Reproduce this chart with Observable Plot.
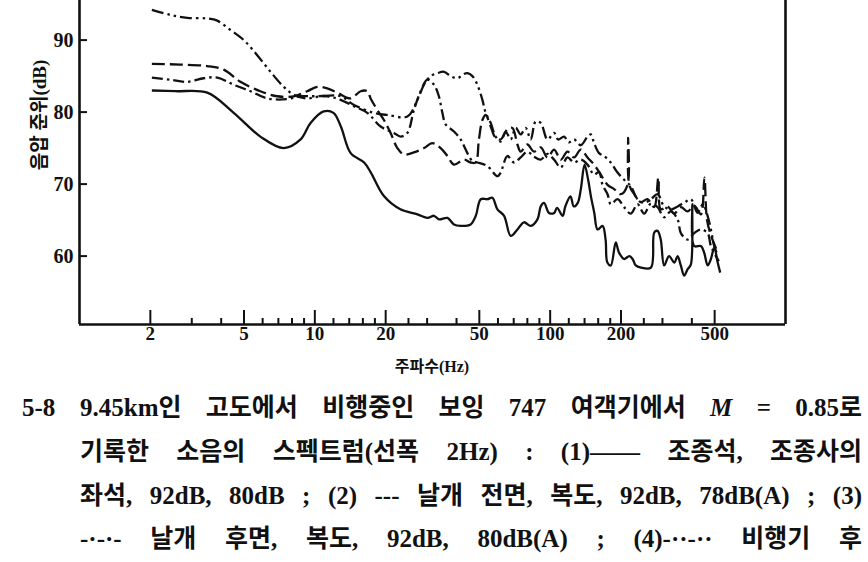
<!DOCTYPE html>
<html><head><meta charset="utf-8">
<script src="https://cdn.jsdelivr.net/npm/d3@7"></script>
<script src="https://cdn.jsdelivr.net/npm/@observablehq/plot@0.6"></script>
<style>
body{margin:0;background:#fff;width:868px;height:562px;overflow:hidden;position:relative;font-family:"Liberation Serif","Noto Sans CJK KR",serif;color:#111;}
#chart{position:absolute;left:0;top:0;}
.ylab{position:absolute;left:37px;top:115px;transform:translate(-50%,-50%) rotate(-90deg);font-size:19px;font-weight:bold;white-space:nowrap;}
.xlab{position:absolute;left:432px;top:365px;transform:translate(-50%,-50%);font-size:16px;font-weight:bold;white-space:nowrap;}
.cap{position:absolute;left:80px;width:782px;font-size:25px;line-height:30px;font-weight:bold;text-align:justify;text-align-last:justify;}
.num{position:absolute;left:22px;font-size:25px;line-height:30px;font-weight:bold;}
</style>
</head><body>
<div id="chart"></div>
<div class="ylab">음압 준위(dB)</div>
<div class="xlab">주파수(Hz)</div>
<div class="num" style="top:393px">5-8</div>
<div class="cap" style="top:393px">9.45km인 고도에서 비행중인 보잉 747 여객기에서 <i>M</i> = 0.85로</div>
<div class="cap" style="top:437px">기록한 소음의 스펙트럼(선폭 2Hz) : (1)—— 조종석, 조종사의</div>
<div class="cap" style="top:481px">좌석, 92dB, 80dB ; (2) --- 날개 전면, 복도, 92dB, 78dB(A) ; (3)</div>
<div class="cap" style="top:524px">-·-·- 날개 후면, 복도, 92dB, 80dB(A) ; (4)-··-·· 비행기 후</div>
<script>
// Frequency (Hz) and sound pressure level (dB) for each curve
const freq1 = [2.03,2.56,3.49,4.52,5.87,7.38,8.70,9.59,10.9,12.0,12.9,14.2,16.2,17.3,19.7,23.1,27.3,30.1,32.1,33.7,36.6,39.0,41.7,45.9,48.3,50.7,54.1,56.8,59.7,63.7,68.0,72.6,77.4,82.7,88.3,91.2,94.2,98.9,104,107,113,116,122,126,131,135,140,145,149,154,159,167,172,175,181,190,196,206,217,224,231,243,268,277,286,295,305,320,337,348,359,371,384,396,402,409,437,451,467,482,498,515,528];
const level1 = [83.0,82.9,82.7,79.9,76.6,75.0,76.2,78.5,80.1,79.9,78.0,74.3,73.0,71.6,68.3,66.5,65.8,65.3,65.6,65.1,65.3,64.4,64.2,64.4,65.6,67.9,67.9,68.1,66.5,65.6,62.8,63.7,64.7,64.2,65.1,66.9,67.4,66.0,66.0,66.7,65.6,66.9,68.3,66.9,67.4,69.3,72.7,70.6,68.3,66.0,63.7,64.2,62.3,59.1,58.7,61.9,60.5,59.6,60.0,59.6,58.7,58.4,58.4,63.3,63.5,62.3,58.7,60.0,59.1,60.0,58.7,57.3,58.2,58.8,67.2,61.4,61.4,60.5,58.7,59.6,61.2,59.1,57.7];

const freq2 = [2.03,2.68,3.49,4.10,4.83,5.87,6.92,8.14,9.28,10.24,11.29,12.45,14.19,15.65,16.71,17.26,18.43,19.66,20.99,22.42,23.92,26.38,29.09,31.58,34.25,36.58,39.02,43.04,45.94,48.24,49.8,51.53,53.2,55.88,58.67,61.62,65.8,69.1,72.6,74.95,80.0,85.4,91.2,97.4,103.9,110.9,118.4,126.3,134.9,144.1,153.7,164.1,175.3,187.0,199.6,213.2,214.4,216.8,227.5,242.8,259.3,276.6,288.2,295.3,315.4,336.4,359.2,383.6,409.3,436.9,452.2,463.6,481.9,512.2];
const level2 = [86.7,86.6,86.4,85.9,84.2,82.9,82.2,82.2,82.9,83.5,83.3,82.7,81.9,82.9,82.9,81.9,80.3,78.9,77.1,75.0,74.1,74.4,75.0,75.7,75.0,73.9,72.7,73.4,73.0,73.0,76.2,78.9,79.6,78.0,76.4,76.2,77.6,77.8,75.5,74.5,75.5,74.5,75.1,73.7,74.8,73.4,74.5,73.7,74.8,73.7,72.7,71.3,69.9,69.3,68.6,69.9,76.4,69.9,68.6,67.5,67.9,66.8,70.9,66.5,66.9,65.9,66.8,66.2,67.0,65.8,70.9,65.1,62.9,60.7];

const freq3 = [2.03,2.43,2.87,3.37,3.85,4.52,5.33,6.27,7.63,8.69,9.90,11.29,12.86,14.66,16.71,19.03,21.68,23.15,24.72,26.37,28.16,30.07,32.07,33.66,34.83,35.96,39.02,41.66,44.49,46.72,49.06,54.12,59.68,61.62,65.8,70.2,74.95,80.0,85.4,91.2,97.4,103.9,110.9,118.4,126.3,134.9,144.1,153.7,161.3,166.9,175.3,181.0,193.3,206.2,220.2,235.2,250.8,267.8,286.0,305.0,325.7,347.9,359.2,383.6,409.3,436.9,466.6,481.9,506.0,521];
const level3 = [84.8,84.5,84.2,84.7,84.8,83.8,82.9,81.9,81.8,82.2,82.2,82.2,81.7,80.8,79.9,78.0,77.1,76.6,77.1,80.3,82.9,84.5,83.8,82.2,79.9,78.3,77.3,76.2,74.3,73.2,73.0,72.5,71.1,71.6,73.9,73.0,73.7,74.5,73.8,73.4,74.2,73.4,72.3,73.7,73.0,73.4,72.7,71.3,71.7,69.9,68.6,67.2,67.9,66.8,65.9,67.2,65.9,67.3,66.8,65.4,66.2,65.1,63.2,62.3,63.2,63.7,63.2,61.4,60.0,59.3];

const freq4 = [2.03,2.43,2.87,3.49,3.85,4.38,4.99,5.69,6.48,7.38,8.14,9.28,10.57,12.86,14.66,17.83,20.32,24.72,27.27,29.09,31.05,33.16,35.38,37.77,40.34,43.04,44.49,46.72,49.06,51.53,53.2,55.88,58.67,61.62,64.7,67.96,71.4,74.95,78.7,82.66,86.8,91.2,97.4,103.9,108.0,114.6,119.9,126.3,134.9,144.1,148.8,153.7,161.3,169.5,181.0,193.3,206.2,220.2,235.2,250.8,267.8,286.0,305.0,325.7,347.9,371.1,396.2,423.1,445.6,466.6,481.9,497.8,509.4];
const level4 = [94.2,93.5,93.1,93.0,92.7,91.4,90.0,87.9,85.6,83.5,82.4,81.9,82.2,82.2,81.0,79.9,79.6,79.4,81.7,83.8,85.0,85.4,85.6,85.0,84.7,85.3,85.4,85.0,83.8,81.7,79.9,78.5,76.6,75.9,77.3,76.2,77.8,76.9,77.8,76.2,78.7,78.5,76.2,77.1,76.2,76.6,75.8,76.2,75.4,76.6,76.9,75.7,74.3,73.9,73.0,71.6,70.6,69.7,67.9,67.4,67.9,68.6,66.9,66.5,66.9,67.4,67.9,66.0,67.2,65.6,63.7,61.4,60.5];

// Axis ticks
const xDomain = [1, 1000];
const yDomain = [50.5, 95.5];
const xMajorTicks = [2, 5, 10, 20, 50, 100, 200, 500];
const xMinorTicks = [3, 4, 6, 7, 8, 9, 12, 14, 16, 18, 25, 30, 40, 60, 70, 80, 90, 120, 140, 160, 180, 250, 300, 400];
const yTicks = [60, 70, 80, 90];

const toRows = (fs, ls) => fs.map((f, i) => ({f, db: ls[i]}));
const s1 = toRows(freq1, level1), s2 = toRows(freq2, level2), s3 = toRows(freq3, level3), s4 = toRows(freq4, level4);

const W = 868, H = 380, mL = 79, mR = 83, mT = 0, mB = 56;
const fh = H - mT - mB, fw = W - mL - mR;
const ink = "#111";
const lineOpts = {x: "f", y: "db", stroke: ink, strokeWidth: 2.3, curve: "catmull-rom", clip: true, strokeLinecap: "butt"};
const labelFont = {fontSize: 19, fontWeight: "bold", fontFamily: "Liberation Serif", fill: ink};

const chart = Plot.plot({
  width: W, height: H,
  marginLeft: mL, marginRight: mR, marginTop: mT, marginBottom: mB,
  x: {type: "log", domain: xDomain, axis: null},
  y: {domain: yDomain},
  style: {background: "#fff", color: ink},
  marks: [
    Plot.line(s1, {...lineOpts}),
    Plot.line(s2, {...lineOpts, strokeDasharray: "13,5"}),
    Plot.line(s3, {...lineOpts, strokeDasharray: "11,4,2.5,4"}),
    Plot.line(s4, {...lineOpts, strokeDasharray: "12,4,2.5,4,2.5,4"}),
    Plot.ruleX([xDomain[0]], {stroke: ink, strokeWidth: 2.6}),
    Plot.ruleX([xDomain[1]], {stroke: ink, strokeWidth: 2.6}),
    Plot.ruleY([yDomain[0]], {stroke: ink, strokeWidth: 2.6}),
    Plot.ruleX(xMajorTicks, {x: d => d, insetTop: fh - 14, stroke: ink, strokeWidth: 2}),
    Plot.ruleX(xMinorTicks, {x: d => d, insetTop: fh - 6, stroke: ink, strokeWidth: 2}),
    Plot.ruleY(yTicks, {y: d => d, insetRight: fw - 8, stroke: ink, strokeWidth: 2}),
    Plot.text(xMajorTicks, {x: d => d, text: d => String(d), frameAnchor: "bottom", dy: 15, ...labelFont}),
    Plot.axisY(yTicks, {tickSize: 0, tickPadding: 6, label: null, tickFormat: d => String(d), fontSize: 20, fontWeight: "bold", fontFamily: "Liberation Serif"})
  ]
});
document.getElementById("chart").appendChild(chart);
</script>
</body></html>
